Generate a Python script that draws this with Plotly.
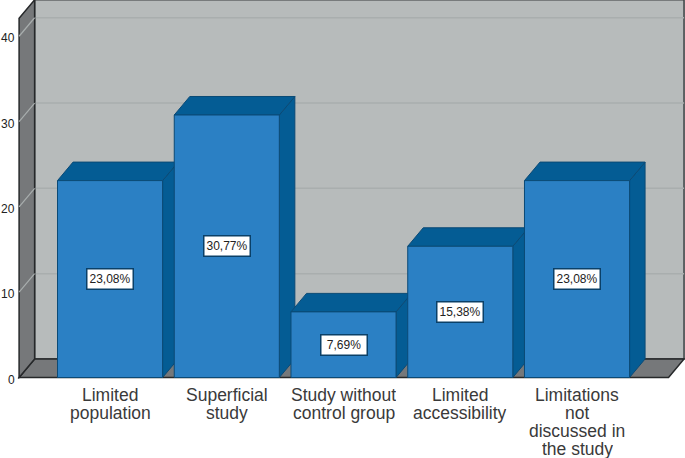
import plotly.graph_objects as go

categories = [
    ["Limited", "population"],
    ["Superficial", "study"],
    ["Study without", "control group"],
    ["Limited", "accessibility"],
    ["Limitations", "not", "discussed in", "the study"],
]
values = [23.08, 30.77, 7.69, 15.38, 23.08]
bar_labels = ["23,08%", "30,77%", "7,69%", "15,38%", "23,08%"]
y_ticks = [0, 10, 20, 30, 40]

# fake 3d depth, in axis units
DX = 0.133
DY = 2.17
BAR_W = 0.9
WALL_L = -0.779
WALL_R = 4.784
WALL_TOP = 42.1

FRONT = "#2b80c4"
DARK = "#045c94"
EDGE = "#0b4a76"
WALL = "#b7bbbb"
GREY = "#76787a"

positions = list(range(len(values)))


def poly(xs, ys, fill, line, width=1):
    path = "M " + " L ".join(f"{a},{b}" for a, b in zip(xs, ys)) + " Z"
    return dict(type="path", path=path, xref="x", yref="y", layer="below",
                fillcolor=fill, line=dict(color=line, width=width))


shapes = []
# back wall, floor, left wall
shapes.append(poly([WALL_L + DX, WALL_R + DX, WALL_R + DX, WALL_L + DX],
                   [DY, DY, WALL_TOP + DY, WALL_TOP + DY], WALL, "#3a3d3f", 1.5))
for t in y_ticks[1:]:
    shapes.append(dict(type="line", xref="x", yref="y", layer="below",
                       x0=WALL_L + DX, x1=WALL_R + DX, y0=t + DY, y1=t + DY,
                       line=dict(color="#a9aeae", width=1.5)))
shapes.append(poly([WALL_L, WALL_L + DX, WALL_R + DX, WALL_R],
                   [0, DY, DY, 0], GREY, "#26282a", 1.5))
shapes.append(poly([WALL_L, WALL_L + DX, WALL_L + DX, WALL_L],
                   [0, DY, WALL_TOP + DY, WALL_TOP], GREY, "#26282a", 1.5))
for t in y_ticks[1:]:
    shapes.append(dict(type="line", xref="x", yref="y", layer="below",
                       x0=WALL_L, x1=WALL_L + DX, y0=t, y1=t + DY,
                       line=dict(color="#a9aeae", width=1.2)))

# side and top of every bar, left to right
for p, v in zip(positions, values):
    r = p + BAR_W / 2
    l = p - BAR_W / 2
    shapes.append(poly([r, r + DX, r + DX, r], [0, DY, v + DY, v], DARK, EDGE))
    shapes.append(poly([l, l + DX, r + DX, r], [v, v + DY, v + DY, v], DARK, EDGE))

fig = go.Figure()
fig.add_trace(go.Bar(
    x=positions,
    y=values,
    width=BAR_W,
    marker=dict(color=FRONT, line=dict(color=EDGE, width=1)),
    hoverinfo="skip",
))

# labels in the middle of the bars
for p, v, txt in zip(positions, values, bar_labels):
    fig.add_annotation(x=p, y=v / 2, text=txt, showarrow=False,
                       width=45, height=19, borderpad=0,
                       font=dict(family="Liberation Sans", size=12, color="#222222"),
                       bgcolor="white", bordercolor="#0a4068", borderwidth=1.5)

# category labels, one annotation a line because they sit tighter than <br>
for p, lines in zip(positions, categories):
    for i, txt in enumerate(lines):
        fig.add_annotation(x=p, y=0, text=txt, showarrow=False, yanchor="middle",
                           yshift=-(18 + 18 * i), height=18, valign="bottom", borderpad=0,
                           font=dict(family="Liberation Sans", size=17.5, color="#3a3a3a"))

# y labels sit a bit under their gridline in the original
for t in y_ticks:
    fig.add_annotation(x=0, xref="paper", xanchor="right", xshift=-1, y=t, yshift=-2,
                       text=str(t), showarrow=False, borderpad=0,
                       font=dict(family="Liberation Sans", size=12, color="#222222"))

fig.update_layout(
    width=685,
    height=458,
    margin=dict(l=17, r=0, t=0, b=79),
    paper_bgcolor="white",
    plot_bgcolor="white",
    showlegend=False,
    shapes=shapes,
    xaxis=dict(range=[-0.797, 4.925], showgrid=False, zeroline=False, automargin=False,
               showticklabels=False, ticks=""),
    yaxis=dict(range=[-0.176, 44.25], tickvals=y_ticks, showgrid=False, zeroline=False,
               automargin=False, showticklabels=False, ticks=""),
)

fig.write_html("out.html", config=dict(displayModeBar=False),
               post_script="document.body.style.margin = '0';")
